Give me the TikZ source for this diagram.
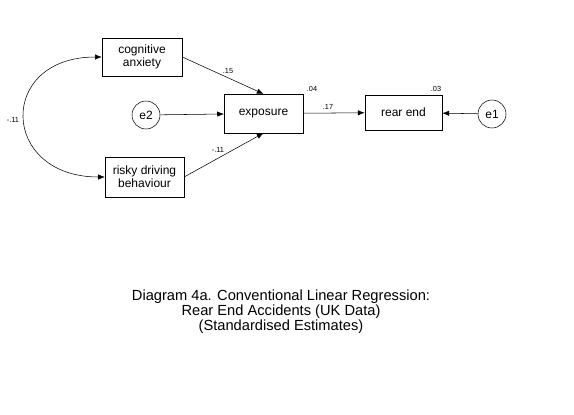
\documentclass[tikz,border=0pt]{standalone}
\usepackage{fontspec}
\setmainfont{Liberation Sans}
\usetikzlibrary{arrows.meta, positioning}

\begin{document}
\begin{tikzpicture}[
    x=0.75pt, y=-0.75pt,
    font=\fontsize{9}{9.5}\selectfont,
    obs/.style={draw, thin, minimum width=59pt, minimum height=29pt, align=center, inner sep=1pt},
    err/.style={draw, thin, circle, minimum size=21pt, inner sep=0pt},
    est/.style={font=\fontsize{5.5}{6}\selectfont, inner sep=0pt},
    arr/.style={-{Latex[length=5pt, width=4pt]}, thin}
]
\useasboundingbox (0,0) rectangle (574,414);

% Predictors
\node[obs, minimum width=60pt, minimum height=28.5pt] (cog) at (142,57) {cognitive\\anxiety};
\node[obs, minimum height=30pt] (risky) at (144.5,177) {risky driving\\behaviour};

% Exposure and its error
\node[obs] (exp) at (263.5,113.5) {exposure};
\node[err] (e2) at (146,115) {e2};

% Outcome and its error
\node[obs, minimum width=58pt, minimum height=26pt] (rear) at (403.5,112.5) {rear end};
\node[err] (e1) at (492,114) {e1};

% Estimates
\node[est] (wcog) at (228,71) {.15};
\node[est] (wrisky) at (218,150) {-.11};
\node[est] (wcov) at (13,120) {-.11};
\node[est] (rexp) at (312,89) {.04};
\node[est] (wexp) at (328,107) {.17};
\node[est] (rrear) at (436,89) {.03};

% Paths
\draw[arr] (cog.east) -- (exp.north);
\draw[arr] (risky.east) -- (exp.south);
\draw[arr] (e2) -- (exp);
\draw[arr] (exp) -- (rear);
\draw[arr] (e1) -- (rear);
\draw[{Latex[length=5pt, width=4pt]}-{Latex[length=5pt, width=4pt]}, thin]
    (cog.west) .. controls +(-105,0) and +(-105,0) .. (risky.west);

% Caption
\node[align=center, font=\fontsize{11}{11.3}\selectfont] (title) at (281,312)
    {Diagram 4a. Conventional Linear Regression:\\Rear End Accidents (UK Data)\\(Standardised Estimates)};
\end{tikzpicture}
\end{document}
